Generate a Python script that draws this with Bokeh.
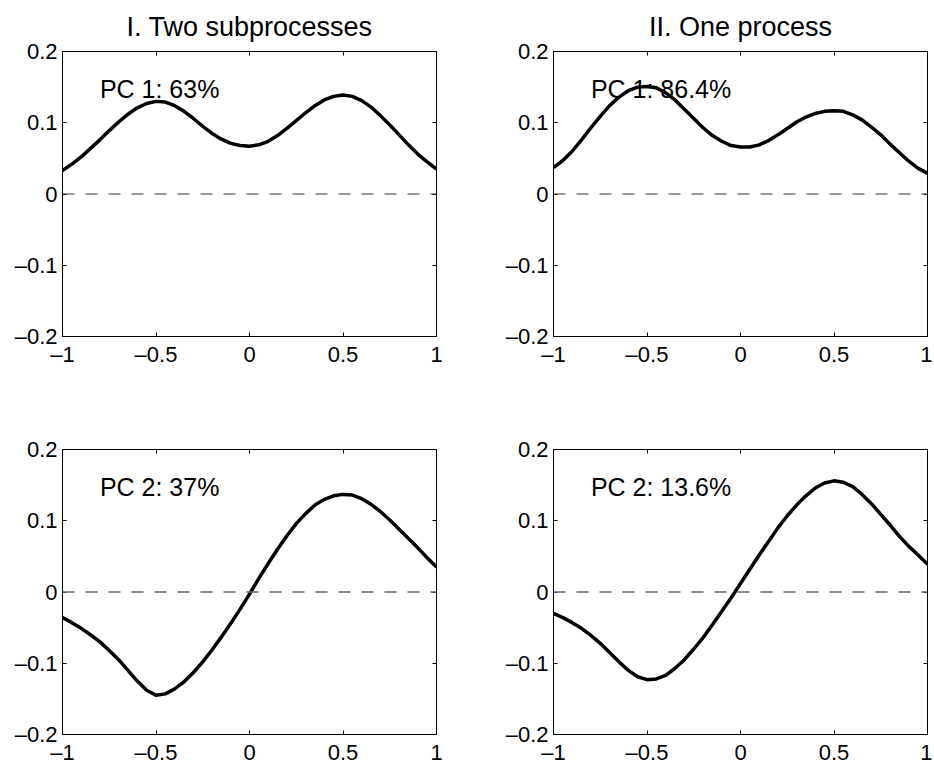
from bokeh.plotting import figure
from bokeh.layouts import column, row
from bokeh.models import (LinearAxis, FixedTicker, CustomJSTickFormatter, Span, Label)
from bokeh.embed import file_html
from bokeh.resources import INLINE

# ---------------- data ----------------
x = [-1.00, -0.95, -0.90, -0.85, -0.80, -0.75, -0.70, -0.65, -0.60, -0.55,
     -0.50, -0.45, -0.40, -0.35, -0.30, -0.25, -0.20, -0.15, -0.10, -0.05,
     0.00, 0.05, 0.10, 0.15, 0.20, 0.25, 0.30, 0.35, 0.40, 0.45,
     0.50, 0.55, 0.60, 0.65, 0.70, 0.75, 0.80, 0.85, 0.90, 0.95, 1.00]

pc1_two = [0.033, 0.042, 0.052, 0.064, 0.076, 0.089, 0.101, 0.112, 0.121, 0.127,
           0.130, 0.129, 0.124, 0.116, 0.106, 0.095, 0.085, 0.077, 0.071, 0.068,
           0.067, 0.069, 0.074, 0.082, 0.092, 0.103, 0.114, 0.124, 0.132, 0.137,
           0.139, 0.137, 0.131, 0.122, 0.110, 0.097, 0.083, 0.069, 0.056, 0.045, 0.035]

pc1_one = [0.037, 0.047, 0.060, 0.076, 0.093, 0.109, 0.124, 0.136, 0.145, 0.150,
           0.151, 0.149, 0.142, 0.132, 0.119, 0.106, 0.093, 0.082, 0.074, 0.068,
           0.066, 0.066, 0.069, 0.075, 0.083, 0.092, 0.101, 0.108, 0.113, 0.116,
           0.117, 0.116, 0.111, 0.104, 0.094, 0.083, 0.070, 0.058, 0.046, 0.036, 0.029]

pc2_two = [-0.036, -0.043, -0.051, -0.060, -0.070, -0.082, -0.095, -0.110, -0.125, -0.138,
           -0.145, -0.143, -0.136, -0.126, -0.113, -0.098, -0.081, -0.063, -0.044, -0.024,
           -0.003, 0.019, 0.040, 0.060, 0.079, 0.096, 0.110, 0.122, 0.130, 0.135,
           0.137, 0.136, 0.131, 0.123, 0.113, 0.101, 0.088, 0.075, 0.062, 0.048, 0.035]

pc2_one = [-0.030, -0.036, -0.043, -0.051, -0.061, -0.072, -0.085, -0.098, -0.110, -0.119,
           -0.123, -0.122, -0.117, -0.107, -0.095, -0.080, -0.064, -0.046, -0.027, -0.008,
           0.012, 0.032, 0.052, 0.071, 0.090, 0.107, 0.122, 0.135, 0.146, 0.153,
           0.156, 0.154, 0.148, 0.137, 0.124, 0.109, 0.094, 0.078, 0.064, 0.052, 0.039]

titles = ["I. Two subprocesses", "II. One process", None, None]
labels = ["PC 1: 63%", "PC 1: 86.4%", "PC 2: 37%", "PC 2: 13.6%"]
series = [pc1_two, pc1_one, pc2_two, pc2_one]

x_ticks = [-1, -0.5, 0, 0.5, 1]
x_tick_labels = ["\u20131", "\u20130.5", "0", "0.5", "1"]
y_ticks = [-0.2, -0.1, 0, 0.1, 0.2]
y_tick_labels = ["\u20130.2", "\u20130.1", "0", "0.1", "0.2"]

label_x = -0.8
label_y = 0.148

FONT = "Liberation Sans"
TICK_SIZE = "22px"


def make_plot(idx, left, right, top, bottom, dash_color, dash_width):
    p = figure(frame_width=374, frame_height=285, x_range=(-1, 1), y_range=(-0.2, 0.2),
               output_backend="svg", toolbar_location=None,
               min_border_left=left, min_border_right=right,
               min_border_top=top, min_border_bottom=bottom,
               background_fill_color="white", border_fill_color="white")
    p.xgrid.visible = False
    p.ygrid.visible = False
    p.outline_line_color = "black"
    p.outline_line_width = 1

    if titles[idx]:
        p.title.text = titles[idx]
        p.title.align = "center"
        p.title.text_font = FONT
        p.title.text_font_size = "27px"
        p.title.text_font_style = "normal"
        p.title.text_color = "black"
        p.title.standoff = 19

    blank = CustomJSTickFormatter(code="return ''")

    for ax in p.xaxis + p.yaxis:
        ax.major_tick_in = 4
        ax.major_tick_out = 0
        ax.minor_tick_in = 0
        ax.minor_tick_out = 0
        ax.axis_line_color = "black"
        ax.major_tick_line_color = "black"
        ax.major_label_text_font = FONT
        ax.major_label_text_font_size = TICK_SIZE
        ax.major_label_text_color = "black"
        ax.major_label_standoff = 5

    p.xaxis.ticker = FixedTicker(ticks=x_ticks)
    p.xaxis.major_label_overrides = {t: l for t, l in zip(x_ticks, x_tick_labels)}
    p.yaxis.ticker = FixedTicker(ticks=y_ticks)
    p.yaxis.major_label_overrides = {t: l for t, l in zip(y_ticks, y_tick_labels)}

    # mirrored ticks (box on)
    top_ax = LinearAxis(ticker=FixedTicker(ticks=x_ticks), formatter=blank,
                        major_tick_in=4, major_tick_out=0, minor_tick_in=0, minor_tick_out=0,
                        axis_line_color="black", major_label_standoff=0,
                        major_label_text_font_size="1px")
    right_ax = LinearAxis(ticker=FixedTicker(ticks=y_ticks), formatter=blank,
                          major_tick_in=4, major_tick_out=0, minor_tick_in=0, minor_tick_out=0,
                          axis_line_color="black", major_label_standoff=0,
                          major_label_text_font_size="1px")
    p.add_layout(top_ax, "above")
    p.add_layout(right_ax, "right")

    p.add_layout(Span(location=0, dimension="width", line_color=dash_color,
                      line_width=dash_width, line_dash="12 11"))

    p.line(x, series[idx], line_color="black", line_width=3.5, line_join="round")

    p.add_layout(Label(x=label_x, y=label_y, text=labels[idx], text_font=FONT,
                       text_font_size="25px", text_color="black",
                       text_baseline="alphabetic", text_align="left"))
    return p


p1 = make_plot(0, 62, 10, 50, 30, "#333333", 1)
p2 = make_plot(1, 107, 5, 50, 30, "#333333", 1)
p3 = make_plot(2, 62, 10, 80, 25, "#666666", 1.6)
p4 = make_plot(3, 107, 5, 80, 25, "#666666", 1.6)

layout = column(row(p1, p2, spacing=0), row(p3, p4, spacing=0), spacing=0)

open("out.html", "w").write(file_html(layout, INLINE))
